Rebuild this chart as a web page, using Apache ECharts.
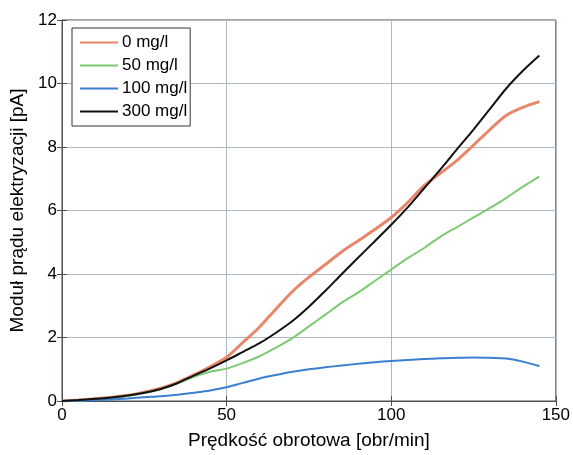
<!DOCTYPE html>
<html>
<head>
<meta charset="utf-8">
<script src="https://cdn.jsdelivr.net/npm/echarts@6/dist/echarts.min.js"></script>
<style>
  html, body { margin: 0; padding: 0; background: #fff; }
  #chart { width: 573px; height: 455px; }
</style>
</head>
<body>
<div id="chart"></div>
<script>
// predkosc obrotowa [obr/min]
const speed = [0, 5, 10, 15, 20, 25, 30, 35, 40, 45, 50, 55, 60, 65, 70, 75, 80, 85, 90, 95, 100, 105, 110, 115, 120, 125, 130, 135, 140, 145]

// modul pradu elektryzacji [pA]
const c0 = [0, 0.03, 0.07, 0.12, 0.18, 0.28, 0.4, 0.58, 0.82, 1.08, 1.38, 1.85, 2.33, 2.9, 3.45, 3.9, 4.3, 4.7, 5.05, 5.4, 5.78, 6.25, 6.78, 7.18, 7.58, 8.06, 8.55, 9.0, 9.25, 9.43]
const c50 = [0, 0.02, 0.05, 0.1, 0.16, 0.25, 0.37, 0.55, 0.76, 0.92, 1.02, 1.2, 1.41, 1.68, 1.98, 2.35, 2.72, 3.1, 3.42, 3.78, 4.14, 4.5, 4.82, 5.18, 5.48, 5.78, 6.08, 6.4, 6.75, 7.07]
const c100 = [0, 0.01, 0.03, 0.05, 0.08, 0.12, 0.15, 0.2, 0.26, 0.33, 0.43, 0.57, 0.71, 0.82, 0.92, 1.0, 1.06, 1.12, 1.17, 1.22, 1.26, 1.29, 1.32, 1.35, 1.36, 1.37, 1.36, 1.34, 1.24, 1.1]
const c300 = [0, 0.03, 0.07, 0.11, 0.17, 0.26, 0.38, 0.56, 0.8, 1.03, 1.28, 1.55, 1.82, 2.15, 2.52, 2.97, 3.47, 4.0, 4.52, 5.03, 5.55, 6.1, 6.7, 7.3, 7.93, 8.55, 9.2, 9.85, 10.4, 10.88]

const names = ['0 mg/l', '50 mg/l', '100 mg/l', '300 mg/l']
const colors = ['#e8866a', '#7ccb70', '#3a7fd0', '#111111']

const pairs = (ys) => speed.map((x, i) => [x, ys[i]])

const myChart = echarts.init(document.getElementById('chart'))

const font = 'Liberation Sans, Arial, sans-serif'
const gridColor = '#aeb8c2'
const frameColor = '#4a4f55'

const makeSeries = (name, ys, color, width) => ({
  name: name,
  type: 'line',
  data: pairs(ys),
  showSymbol: false,
  smooth: 0.3,
  lineStyle: { color: color, width: width },
  itemStyle: { color: color },
  animation: false
})

const option = {
  backgroundColor: '#fff',
  grid: { left: 62, top: 20, right: 16, bottom: 46, show: true, borderColor: frameColor, borderWidth: 1 },
  legend: {
    orient: 'vertical',
    left: 72,
    top: 28,
    data: names,
    backgroundColor: '#fff',
    borderColor: '#333',
    borderWidth: 1,
    borderRadius: 0,
    padding: [6, 3, 6, 8],
    itemWidth: 38,
    itemHeight: 14,
    itemGap: 6,
    icon: 'path://M0,6 L38,6 L38,8 L0,8 Z',
    textStyle: { color: '#000', fontSize: 17, fontFamily: font, padding: [0, 0, 0, -1] }
  },
  xAxis: [
    {
      type: 'value',
      min: 0,
      max: 150,
      interval: 50,
      name: 'Prędkość obrotowa [obr/min]',
      nameLocation: 'middle',
      nameGap: 30,
      nameTextStyle: { color: '#000', fontSize: 19, fontFamily: font },
      axisLine: { show: true, lineStyle: { color: frameColor } },
      axisTick: { show: true, inside: true, length: 5, lineStyle: { color: frameColor } },
      axisLabel: { color: '#000', fontSize: 17, fontFamily: font, margin: 6 },
      splitLine: { show: true, lineStyle: { color: gridColor, width: 1 } }
    },
    {
      type: 'value',
      position: 'top',
      min: 0,
      max: 150,
      interval: 50,
      axisLine: { show: true, lineStyle: { color: frameColor } },
      axisTick: { show: true, inside: true, length: 5, lineStyle: { color: frameColor } },
      axisLabel: { show: false },
      splitLine: { show: false }
    }
  ],
  yAxis: [
    {
      type: 'value',
      min: 0,
      max: 12,
      interval: 2,
      name: 'Moduł prądu elektryzacji [pA]',
      nameLocation: 'middle',
      nameGap: 22,
      nameTextStyle: { color: '#000', fontSize: 19, fontFamily: font },
      axisLine: { show: true, lineStyle: { color: frameColor } },
      axisTick: { show: true, inside: true, length: 5, lineStyle: { color: frameColor } },
      axisLabel: { color: '#000', fontSize: 17, fontFamily: font, margin: 5 },
      splitLine: { show: true, lineStyle: { color: gridColor, width: 1 } }
    },
    {
      type: 'value',
      position: 'right',
      min: 0,
      max: 12,
      interval: 2,
      axisLine: { show: true, lineStyle: { color: frameColor } },
      axisTick: { show: true, inside: true, length: 5, lineStyle: { color: frameColor } },
      axisLabel: { show: false },
      splitLine: { show: false }
    }
  ],
  series: [
    makeSeries(names[0], c0, colors[0], 3),
    makeSeries(names[1], c50, colors[1], 2),
    makeSeries(names[2], c100, colors[2], 2),
    makeSeries(names[3], c300, colors[3], 2)
  ]
}

myChart.setOption(option)
</script>
</body>
</html>
